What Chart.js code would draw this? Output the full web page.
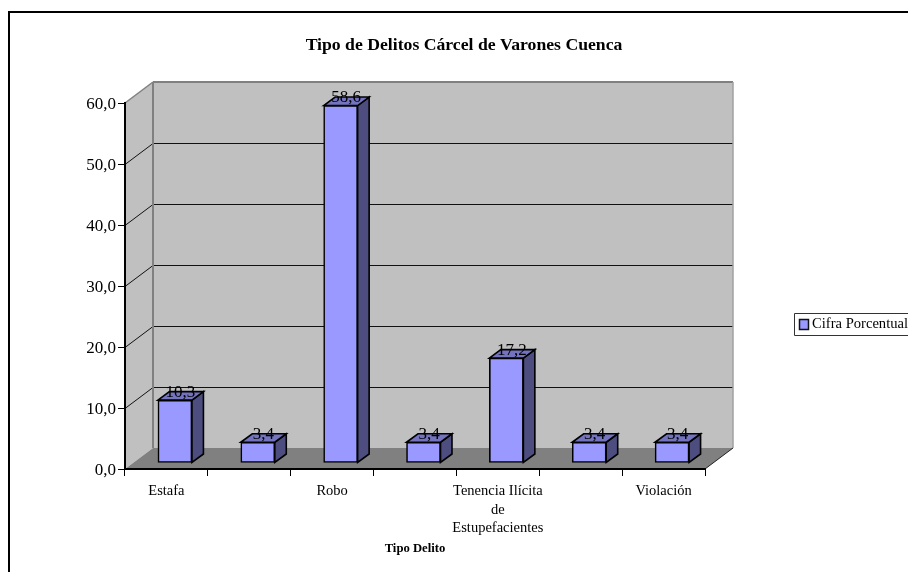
<!DOCTYPE html>
<html>
<head>
<meta charset="utf-8">
<title>Tipo de Delitos</title>
<script src="https://cdn.jsdelivr.net/npm/chart.js"></script>
<style>
  html, body { margin: 0; padding: 0; background: #fff; overflow: hidden; }
  canvas { display: block; }
</style>
</head>
<body>
<canvas id="delitos" width="908" height="572"></canvas>
<script>
// only every other category name is printed on the axis
var categories = ["Estafa", "", "Robo", "", ["Tenencia Ilícita", "de", "Estupefacientes"], "", "Violación"];
var cifras = [10.3, 3.4, 58.6, 3.4, 17.2, 3.4, 3.4];
var yTicks = [0, 10, 20, 30, 40, 50, 60];
var seriesName = "Cifra Porcentual";
var titleText = "Tipo de Delitos Cárcel de Varones Cuenca";
var axisTitle = "Tipo Delito";

var SERIF = '"Liberation Serif", "Times New Roman", serif';
var DEPTH_X = 28, DEPTH_Y = 21;       // floor and walls
var BAR_X = 8.5, BAR_Y = 6;           // bars stand a little inside the floor
var SIDE_X = 11.5, SIDE_Y = 8.5;      // bar thickness

function comma(v) {
  return Number(v).toFixed(1).replace(".", ",");
}

function poly(ctx, pts, fill, stroke, lw) {
  ctx.beginPath();
  pts.forEach(function (p, i) {
    if (i === 0) ctx.moveTo(p[0], p[1]);
    else ctx.lineTo(p[0], p[1]);
  });
  ctx.closePath();
  if (fill) {
    ctx.fillStyle = fill;
    ctx.fill();
  }
  if (stroke) {
    ctx.strokeStyle = stroke;
    ctx.lineWidth = lw || 1;
    ctx.stroke();
  }
}

function line(ctx, x1, y1, x2, y2, color, lw) {
  ctx.beginPath();
  ctx.moveTo(x1, y1);
  ctx.lineTo(x2, y2);
  ctx.strokeStyle = color;
  ctx.lineWidth = lw;
  ctx.stroke();
}

var scene = {
  id: "scene",
  beforeDraw: function (chart) {
    var ctx = chart.ctx;
    var a = chart.chartArea;
    var y = chart.scales.y;
    ctx.save();
    ctx.fillStyle = "#fff";
    ctx.fillRect(0, 0, chart.width, chart.height);

    // page frame, open on the right and at the bottom
    line(ctx, 9, 12, 908, 12, "#000", 2);
    line(ctx, 9, 11, 9, 572, "#000", 2);

    // walls and floor
    poly(ctx, [[a.left + DEPTH_X, a.top - DEPTH_Y], [a.right + DEPTH_X, a.top - DEPTH_Y],
      [a.right + DEPTH_X, a.bottom - DEPTH_Y], [a.left + DEPTH_X, a.bottom - DEPTH_Y]], "#c0c0c0");
    poly(ctx, [[a.left, a.top], [a.left + DEPTH_X, a.top - DEPTH_Y],
      [a.left + DEPTH_X, a.bottom - DEPTH_Y], [a.left, a.bottom]], "#c0c0c0");

    yTicks.slice(1, -1).forEach(function (v) {
      var py = Math.round(y.getPixelForValue(v)) + 0.5;
      line(ctx, a.left, py, a.left + DEPTH_X, py - DEPTH_Y, "#111", 1);
      line(ctx, a.left + DEPTH_X, py - DEPTH_Y, a.right + DEPTH_X, py - DEPTH_Y, "#111", 1);
    });

    poly(ctx, [[a.left, a.bottom], [a.right, a.bottom],
      [a.right + DEPTH_X, a.bottom - DEPTH_Y], [a.left + DEPTH_X, a.bottom - DEPTH_Y]], "#808080");

    line(ctx, a.left, a.top, a.left + DEPTH_X, a.top - DEPTH_Y, "#808080", 1.5);
    line(ctx, a.left + DEPTH_X, a.top - DEPTH_Y, a.right + DEPTH_X, a.top - DEPTH_Y, "#808080", 2);
    line(ctx, a.left + DEPTH_X, a.top - DEPTH_Y, a.left + DEPTH_X, a.bottom - DEPTH_Y, "#808080", 2);
    line(ctx, a.right + DEPTH_X, a.top - DEPTH_Y, a.right + DEPTH_X, a.bottom - DEPTH_Y, "#a0a0a0", 1.5);
    line(ctx, a.right, a.bottom, a.right + DEPTH_X, a.bottom - DEPTH_Y, "#222", 1);

    ctx.textAlign = "center";
    ctx.textBaseline = "middle";
    ctx.fillStyle = "#000";
    ctx.font = "bold 17.7px " + SERIF;
    ctx.fillText(titleText, 464, 45);

    // legend, runs off the right edge of the page
    poly(ctx, [[794.5, 313.5], [912, 313.5], [912, 335.5], [794.5, 335.5]], "#fff", "#333", 1);
    poly(ctx, [[799.5, 319.5], [808.5, 319.5], [808.5, 329.5], [799.5, 329.5]], "#9999ff", "#111", 1.5);
    ctx.fillStyle = "#000";
    ctx.textAlign = "left";
    ctx.font = "14.6px " + SERIF;
    ctx.fillText(seriesName, 812, 324.5);
    ctx.restore();
  },
  beforeDatasetDraw: function (chart, args) {
    var ctx = chart.ctx;
    ctx.save();
    ctx.translate(BAR_X, -BAR_Y);
    // side and top faces go first, the library then paints the front face
    args.meta.data.forEach(function (bar) {
      var l = bar.x - bar.width / 2;
      var r = bar.x + bar.width / 2;
      poly(ctx, [[r, bar.y], [r + SIDE_X, bar.y - SIDE_Y], [r + SIDE_X, bar.base - SIDE_Y], [r, bar.base]], "#4d4d80", "#000", 1.6);
      poly(ctx, [[l, bar.y], [l + SIDE_X, bar.y - SIDE_Y], [r + SIDE_X, bar.y - SIDE_Y], [r, bar.y]], "#7373bf", "#000", 1.6);
    });
  },
  afterDatasetDraw: function (chart) {
    chart.ctx.restore();
  },
  afterDatasetsDraw: function (chart) {
    var ctx = chart.ctx;
    ctx.save();
    ctx.textAlign = "center";
    ctx.textBaseline = "middle";
    ctx.fillStyle = "#000";
    ctx.font = "17px " + SERIF;
    chart.getDatasetMeta(0).data.forEach(function (bar, i) {
      ctx.fillText(comma(cifras[i]), bar.x + BAR_X + 5.5, bar.y - BAR_Y - 8);
    });
    ctx.restore();
  }
};

new Chart(document.getElementById("delitos"), {
  type: "bar",
  data: {
    labels: categories,
    datasets: [{
      label: seriesName,
      data: cifras,
      backgroundColor: "#9999ff",
      borderColor: "#000",
      borderWidth: 1.6,
      borderSkipped: false,
      barThickness: 34,
      clip: false
    }]
  },
  options: {
    responsive: false,
    animation: false,
    layout: { padding: { top: 103, right: 203, left: 0, bottom: 0 } },
    plugins: { legend: { display: false }, title: { display: false }, tooltip: { enabled: false } },
    scales: {
      x: {
        afterFit: function (s) { s.height = 103; },
        grid: { drawOnChartArea: false, color: "#000", tickLength: 7, lineWidth: 1 },
        border: { color: "#000", width: 2 },
        ticks: {
          autoSkip: false, maxRotation: 0, minRotation: 0, padding: 6, color: "#000",
          font: { family: SERIF, size: 14.5, lineHeight: 1.28 }
        },
        title: {
          display: true, text: axisTitle, color: "#000",
          font: { family: SERIF, size: 12.7, weight: "bold" },
          padding: { top: 0, bottom: 16 }
        }
      },
      y: {
        min: 0,
        max: 60,
        afterFit: function (s) { s.width = 125; },
        afterBuildTicks: function (s) {
          s.ticks = yTicks.map(function (v) { return { value: v }; });
        },
        grid: { drawOnChartArea: false, color: "#000", tickLength: 7, lineWidth: 1 },
        border: { color: "#000", width: 2 },
        ticks: {
          padding: 2, color: "#000", labelOffset: 1.5,
          font: { family: SERIF, size: 17 },
          callback: function (v) { return comma(v); }
        }
      }
    }
  },
  plugins: [scene]
});
</script>
</body>
</html>
